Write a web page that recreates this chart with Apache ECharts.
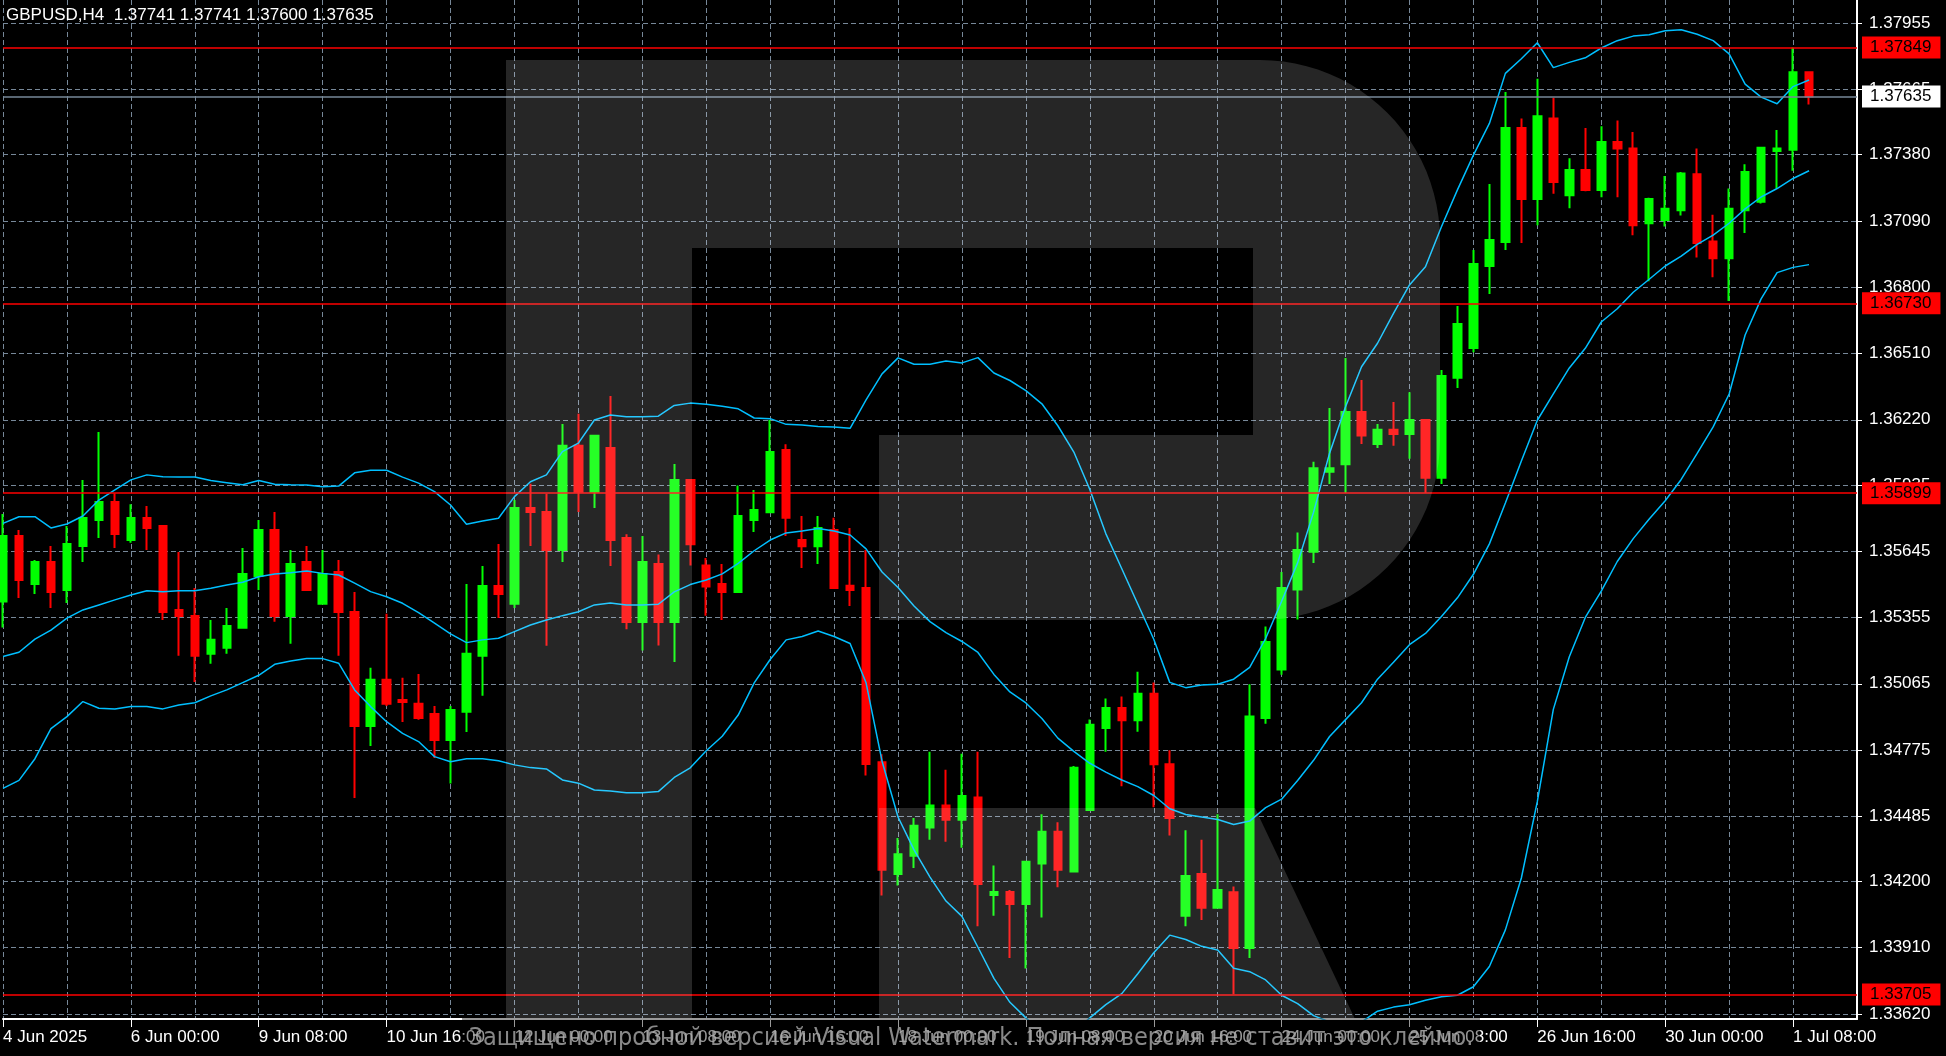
<!DOCTYPE html>
<html><head><meta charset="utf-8">
<script src="https://cdn.jsdelivr.net/npm/echarts@6/dist/echarts.min.js"></script>
<style>html,body{margin:0;padding:0;background:#000;overflow:hidden}#c{width:1946px;height:1056px}</style>
</head><body><div id="c"></div>
<script>
// ---- categories (H4 bars) ----
const H = [0, 4, 8, 12, 16, 20];
const sessions = [['4 Jun',[16,20]],['5 Jun',H],['6 Jun',H],['9 Jun',H],['10 Jun',H],['11 Jun',H],['12 Jun',H],['13 Jun',H],
  ['16 Jun',H],['17 Jun',H],['18 Jun',H],['19 Jun',H],['20 Jun',H],['23 Jun',H],['24 Jun',H],['25 Jun',H],['26 Jun',H],
  ['27 Jun',H],['30 Jun',H],['1 Jul',H],['2 Jul',[0]]];
const tickLabels = ['4 Jun 2025','6 Jun 00:00','9 Jun 08:00','10 Jun 16:00','12 Jun 00:00','13 Jun 08:00','16 Jun 16:00',
  '18 Jun 00:00','19 Jun 08:00','20 Jun 16:00','24 Jun 00:00','25 Jun 08:00','26 Jun 16:00','30 Jun 00:00','1 Jul 08:00'];
const yTicks = [1.33620,1.33910,1.34200,1.34485,1.34775,1.35065,1.35355,1.35645,1.35935,1.36220,1.36510,1.36800,1.37090,1.37380,1.37665,1.37955];
const levels = [1.37849, 1.36730, 1.35899, 1.33705];
const lastPrice = 1.37635;
const titleText = 'GBPUSD,H4  1.37741 1.37741 1.37600 1.37635';

// ---- OHLC ----
const open = [1.35425,1.35711,1.35501,1.35598,1.35475,1.35668,1.35782,1.35860,1.35694,1.35790,
1.35755,1.35388,1.35362,1.35196,1.35222,1.35310,1.35537,1.35738,1.35362,1.35598,
1.35415,1.35554,1.35379,1.34880,1.35082,1.34994,1.34977,1.34933,1.34819,1.34942,
1.35187,1.35493,1.35415,1.35834,1.35817,1.35650,1.36106,1.35905,1.36097,1.35703,
1.35335,1.35589,1.35335,1.35957,1.35582,1.35501,1.35466,1.35782,1.35816,1.36088,
1.35694,1.35667,1.35738,1.35494,1.35484,1.34722,1.34233,1.34312,1.34436,1.34532,
1.34470,1.34567,1.34141,1.34154,1.34101,1.34278,1.34417,1.34243,1.34513,1.34871,
1.34959,1.34905,1.35021,1.34713,1.34050,1.34232,1.34085,1.34153,1.33909,1.34915,
1.35127,1.35477,1.35643,1.35993,1.36026,1.36254,1.36114,1.36176,1.36158,1.36219,
1.35966,1.36404,1.36534,1.36893,1.36998,1.37497,1.37186,1.37539,1.37203,1.37313,
1.37226,1.37436,1.37407,1.37080,1.37094,1.37137,1.37295,1.37000,1.36927,1.37137,
1.37174,1.37396,1.37402,1.37741];
const high = [1.35808,1.35738,1.35606,1.35668,1.35755,1.35957,1.36167,1.35899,1.35851,1.35843,
1.35755,1.35641,1.35484,1.35344,1.35397,1.35659,1.35782,1.35817,1.35650,1.35668,
1.35650,1.35606,1.35467,1.35135,1.35371,1.35091,1.35108,1.34968,1.34968,1.35501,
1.35580,1.35677,1.35869,1.35940,1.35896,1.36202,1.36246,1.36150,1.36324,1.35719,
1.35712,1.35631,1.36027,1.35957,1.35615,1.35589,1.35932,1.35913,1.36219,1.36113,
1.35799,1.35799,1.35791,1.35747,1.35650,1.34756,1.34390,1.34478,1.34767,1.34689,
1.34759,1.34767,1.34270,1.34162,1.34286,1.34494,1.34459,1.34705,1.34909,1.35001,
1.35009,1.35117,1.35071,1.34774,1.34424,1.34382,1.34494,1.34178,1.35063,1.35316,
1.35554,1.35727,1.36036,1.36272,1.36490,1.36394,1.36202,1.36298,1.36341,1.36219,
1.36438,1.36718,1.36963,1.37252,1.37654,1.37539,1.37712,1.37629,1.37364,1.37497,
1.37505,1.37530,1.37479,1.37192,1.37287,1.37304,1.37407,1.37117,1.37232,1.37338,
1.37410,1.37488,1.37849,1.37741];
const low = [1.35311,1.35440,1.35458,1.35397,1.35418,1.35598,1.35703,1.35659,1.35682,1.35650,
1.35344,1.35187,1.35073,1.35152,1.35196,1.35310,1.35475,1.35336,1.35240,1.35475,
1.35415,1.35187,1.34565,1.34793,1.34968,1.34898,1.34907,1.34740,1.34629,1.34854,
1.35012,1.35353,1.35397,1.35668,1.35231,1.35598,1.35817,1.35834,1.35580,1.35304,
1.35210,1.35232,1.35160,1.35582,1.35363,1.35344,1.35466,1.35729,1.35816,1.35712,
1.35572,1.35589,1.35484,1.35405,1.34663,1.34138,1.34182,1.34259,1.34382,1.34374,
1.34347,1.34004,1.34050,1.33865,1.33819,1.34042,1.34174,1.34243,1.34513,1.34767,
1.34616,1.34855,1.34525,1.34401,1.34004,1.34031,1.34085,1.33706,1.33865,1.34890,
1.35104,1.35346,1.35593,1.35939,1.35901,1.36114,1.36097,1.36106,1.36050,1.35901,
1.35939,1.36359,1.36516,1.36771,1.36963,1.36994,1.37071,1.37209,1.37146,1.37220,
1.37194,1.37194,1.37028,1.36826,1.37066,1.37114,1.36930,1.36844,1.36740,1.37037,
1.37166,1.37232,1.37310,1.37600];
const close = [1.35711,1.35519,1.35598,1.35467,1.35677,1.35790,1.35860,1.35720,1.35790,1.35746,
1.35379,1.35362,1.35187,1.35257,1.35318,1.35545,1.35738,1.35362,1.35589,1.35475,
1.35545,1.35379,1.34880,1.35082,1.34977,1.34985,1.34915,1.34819,1.34950,1.35196,
1.35493,1.35458,1.35834,1.35817,1.35650,1.36106,1.35905,1.36150,1.35694,1.35335,
1.35598,1.35335,1.35957,1.35675,1.35491,1.35466,1.35799,1.35825,1.36079,1.35791,
1.35667,1.35746,1.35484,1.35475,1.34714,1.34251,1.34319,1.34444,1.34532,1.34470,
1.34574,1.34189,1.34154,1.34101,1.34286,1.34417,1.34251,1.34697,1.34886,1.34959,
1.34905,1.35021,1.34713,1.34478,1.34224,1.34085,1.34162,1.33909,1.34922,1.35248,
1.35484,1.35650,1.36008,1.36008,1.36254,1.36151,1.36176,1.36158,1.36219,1.35966,
1.36412,1.36639,1.36902,1.37007,1.37497,1.37186,1.37548,1.37261,1.37313,1.37226,
1.37436,1.37407,1.37071,1.37186,1.37143,1.37298,1.36994,1.36927,1.37143,1.37304,
1.37410,1.37407,1.37741,1.37635];

// ---- Bollinger bands ----
const bbUpper = [1.35767,1.35796,1.35796,1.35747,1.35764,1.35799,1.35869,1.35913,1.35957,1.35979,
1.35971,1.35970,1.35970,1.35954,1.35945,1.35936,1.35954,1.35938,1.35936,1.35935,
1.35927,1.35930,1.35988,1.35999,1.35999,1.35969,1.35943,1.35906,1.35847,1.35763,
1.35777,1.35789,1.35884,1.35949,1.35979,1.36081,1.36118,1.36219,1.36241,1.36233,
1.36233,1.36236,1.36283,1.36293,1.36288,1.36279,1.36268,1.36228,1.36225,1.36200,
1.36197,1.36191,1.36189,1.36183,1.36307,1.36421,1.36491,1.36463,1.36463,1.36477,
1.36469,1.36492,1.36425,1.36392,1.36348,1.36290,1.36194,1.36079,1.35915,1.35722,
1.35568,1.35414,1.35260,1.35071,1.35048,1.35060,1.35063,1.35085,1.35137,1.35263,
1.35426,1.35594,1.35816,1.36074,1.36277,1.36452,1.36555,1.36686,1.36810,1.36890,
1.37065,1.37226,1.37378,1.37517,1.37736,1.37800,1.37870,1.37761,1.37784,1.37804,
1.37847,1.37879,1.37899,1.37905,1.37922,1.37927,1.37907,1.37879,1.37821,1.37689,
1.37632,1.37603,1.37678,1.37707];
const bbMiddle = [1.35184,1.35203,1.35260,1.35300,1.35352,1.35388,1.35410,1.35432,1.35453,1.35472,
1.35468,1.35472,1.35472,1.35483,1.35497,1.35509,1.35533,1.35545,1.35551,1.35558,
1.35548,1.35541,1.35505,1.35468,1.35446,1.35417,1.35376,1.35330,1.35283,1.35245,
1.35257,1.35264,1.35293,1.35322,1.35344,1.35363,1.35380,1.35410,1.35418,1.35410,
1.35410,1.35413,1.35467,1.35499,1.35519,1.35546,1.35592,1.35647,1.35694,1.35725,
1.35733,1.35744,1.35733,1.35716,1.35655,1.35554,1.35486,1.35405,1.35337,1.35289,
1.35250,1.35202,1.35106,1.35029,1.34981,1.34913,1.34827,1.34769,1.34717,1.34678,
1.34644,1.34615,1.34576,1.34518,1.34493,1.34482,1.34471,1.34449,1.34464,1.34523,
1.34560,1.34642,1.34730,1.34834,1.34908,1.34982,1.35085,1.35159,1.35236,1.35285,
1.35359,1.35441,1.35544,1.35677,1.35856,1.36040,1.36218,1.36333,1.36447,1.36533,
1.36648,1.36706,1.36778,1.36835,1.36893,1.36936,1.36988,1.37028,1.37080,1.37143,
1.37195,1.37232,1.37276,1.37310];
const bbLower = [1.34607,1.34642,1.34737,1.34869,1.34921,1.34987,1.34958,1.34955,1.34965,1.34965,
1.34955,1.34972,1.34982,1.35012,1.35038,1.35070,1.35102,1.35150,1.35165,1.35175,
1.35175,1.35155,1.35038,1.34965,1.34899,1.34848,1.34812,1.34746,1.34724,1.34737,
1.34737,1.34728,1.34710,1.34698,1.34692,1.34644,1.34630,1.34600,1.34596,1.34588,
1.34588,1.34593,1.34655,1.34697,1.34772,1.34835,1.34928,1.35069,1.35171,1.35257,
1.35272,1.35296,1.35272,1.35241,1.35069,1.34726,1.34482,1.34338,1.34219,1.34114,
1.34047,1.33912,1.33776,1.33671,1.33603,1.33541,1.33507,1.33541,1.33603,1.33661,
1.33709,1.33796,1.33888,1.33965,1.33946,1.33916,1.33900,1.33820,1.33805,1.33769,
1.33702,1.33665,1.33613,1.33585,1.33576,1.33585,1.33632,1.33650,1.33660,1.33680,
1.33695,1.33702,1.33739,1.33828,1.33988,1.34215,1.34550,1.34953,1.35183,1.35355,
1.35470,1.35600,1.35700,1.35786,1.35866,1.35959,1.36073,1.36189,1.36333,1.36591,
1.36749,1.36864,1.36887,1.36899];

// ---- build ----
const pad = n => (n < 10 ? '0' : '') + n;
const categories = [];
sessions.forEach(([d, hrs]) => hrs.forEach(h => categories.push(d + ' ' + pad(h) + ':00')));
const candles = open.map((o, i) => [o, close[i], low[i], high[i]]);
const FONT = '"Liberation Sans", Arial, sans-serif';
const GRID_COLOR = '#778899';

const markData = levels.map(v => ({ yAxis: v }));
markData.push({ yAxis: lastPrice, lineStyle: { color: GRID_COLOR, width: 1.5 },
  label: { backgroundColor: '#ffffff', color: '#000000' } });

const bandSeries = (name, data) => ({
  name, type: 'line', data, showSymbol: false, symbol: 'none', z: 4, clip: true,
  lineStyle: { color: '#00bfff', width: 1.5 }, silent: true, animation: false
});

// watermark "R" outline (decoration only)
function arcPts(cx, cy, r, a0, a1, n) {
  const pts = [];
  for (let i = 0; i <= n; i++) {
    const a = (a0 + (a1 - a0) * i / n) * Math.PI / 180;
    pts.push([cx + r * Math.cos(a), cy + r * Math.sin(a)]);
  }
  return pts;
}
const rBody = [[506, 60], [1260, 60]]
  .concat(arcPts(1260, 240, 180, -90, 0, 24))
  .concat(arcPts(1260, 440, 180, 0, 90, 24))
  .concat([[879, 620], [879, 435], [1253, 435], [1253, 248], [692, 248], [692, 1019], [506, 1019]]);
const rLeg = [[879, 808], [1255, 808], [1355, 1019], [879, 1019]];

const chart = echarts.init(document.getElementById('c'), null, { renderer: 'canvas' });
chart.setOption({
  backgroundColor: '#000000',
  animation: false,
  title: { text: titleText, left: 6, top: 7, padding: 0,
    textStyle: { color: '#ffffff', fontSize: 17, fontWeight: 'normal', fontFamily: FONT } },
  grid: { left: 1, right: 89, top: 0, bottom: 37, containLabel: false },
  xAxis: {
    type: 'category', data: categories, boundaryGap: false,
    axisLine: { lineStyle: { color: '#ffffff', width: 2 } },
    axisTick: { interval: 7, length: 8, lineStyle: { color: '#ffffff', width: 1 } },
    axisLabel: { interval: 7, align: 'left', color: '#ffffff', fontSize: 17, fontFamily: FONT, margin: 10,
      formatter: (v, i) => (i % 8 === 0 && tickLabels[i / 8]) ? tickLabels[i / 8] : '' },
    splitLine: { show: true, interval: 3, lineStyle: { color: GRID_COLOR, width: 1, type: [5, 3] } }
  },
  yAxis: {
    type: 'value', position: 'right', min: 1.33598, max: 1.38057, scale: true,
    axisLine: { show: true, lineStyle: { color: '#ffffff', width: 2 } },
    axisTick: { show: true, length: 5, customValues: yTicks, lineStyle: { color: '#ffffff' } },
    axisLabel: { customValues: yTicks, color: '#ffffff', fontSize: 17, fontFamily: FONT, margin: 12,
      formatter: v => v.toFixed(5) },
    splitLine: { show: true, lineStyle: { color: GRID_COLOR, width: 1, type: [5, 3] } }
  },
  series: [
    {
      type: 'candlestick', data: candles, barWidth: 8, z: 3, clip: true, silent: true,
      itemStyle: { color: '#00ff00', color0: '#ff0000', borderColor: '#00ff00', borderColor0: '#ff0000', borderWidth: 2 },
      markLine: {
        silent: true, symbol: ['none', 'none'], animation: false, precision: 5,
        lineStyle: { color: '#ff0000', width: 1.5, type: 'solid' },
        label: { show: true, position: 'end', distance: 5, color: '#000000', backgroundColor: '#ff0000',
          padding: [3, 9, 2, 8], fontSize: 17, fontFamily: FONT, formatter: p => Number(p.value).toFixed(5) },
        data: markData
      }
    },
    bandSeries('upper', bbUpper),
    bandSeries('middle', bbMiddle),
    bandSeries('lower', bbLower)
  ],
  graphic: [
    { type: 'polygon', z: 100, silent: true, shape: { points: rBody },
      style: { fill: 'rgba(255,255,255,0.15)' } },
    { type: 'polygon', z: 100, silent: true, shape: { points: rLeg },
      style: { fill: 'rgba(255,255,255,0.15)' } },
    { type: 'rect', z: 100, silent: true, shape: { x: 462, y: 1018, width: 1018, height: 38 },
      style: { fill: 'rgba(0,0,0,0.4)' } },
    { type: 'text', z: 101, silent: true, x: 971, y: 1038,
      style: { text: 'Защищено пробной версией Visual Watermark. Полная версия не ставит это клеймо.',
        fill: 'rgba(170,170,170,0.8)', font: '25px "Liberation Sans Narrow", "DejaVu Sans Condensed", "Liberation Sans", sans-serif',
        textAlign: 'center', textVerticalAlign: 'middle' } }
  ]
});
</script>
</body></html>
